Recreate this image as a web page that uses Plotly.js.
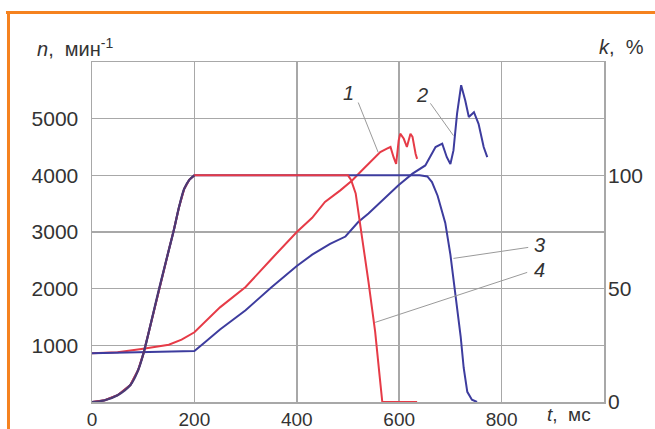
<!DOCTYPE html>
<html>
<head>
<meta charset="utf-8">
<script src="https://cdn.plot.ly/plotly-3.0.1.min.js"></script>
<style>html,body{margin:0;padding:0;background:#fff;}#chart{width:655px;height:429px;}</style>
</head>
<body>
<div id="chart"></div>
<script>
// Curve 1: n (red), rpm
const t1 = [0, 50, 100, 150, 175, 200, 250, 300, 350, 400, 430, 455, 485, 508, 527, 540, 553, 563, 576, 583, 589, 594, 599, 602, 609, 615, 622, 626, 632, 635];
const n1 = [860, 880, 940, 1010, 1100, 1230, 1670, 2030, 2520, 3000, 3250, 3530, 3735, 3910, 4085, 4205, 4320, 4410, 4470, 4500, 4320, 4200, 4615, 4735, 4645, 4500, 4735, 4680, 4380, 4290];
// Curve 2: n (blue), rpm
const t2 = [0, 100, 150, 200, 220, 250, 300, 350, 400, 430, 465, 495, 520, 540, 598, 626, 651, 671, 684, 693, 700, 706, 713, 721, 729, 736, 746, 755, 765, 772];
const n2 = [860, 880, 885, 900, 1050, 1280, 1620, 2020, 2400, 2600, 2790, 2920, 3175, 3325, 3820, 4030, 4175, 4500, 4560, 4320, 4200, 4440, 5090, 5590, 5320, 5030, 5115, 4910, 4500, 4320];
// Curve 3: k (blue), %
const t3 = [0, 25, 50, 75, 90, 100, 110, 120, 130, 140, 150, 160, 170, 180, 190, 200, 640, 655, 664, 675, 684, 690, 700, 710, 720, 726, 733, 742, 752];
const k3 = [0, 0.8, 3, 7.5, 14, 21, 30, 39.5, 49, 58, 67, 76, 86, 94, 98, 100, 100, 99.5, 97, 91, 83, 79, 65, 47, 29, 15, 4.5, 1, 0];
// Curve 4: k (red), %
const t4 = [0, 25, 50, 75, 90, 100, 110, 120, 130, 140, 150, 160, 170, 180, 190, 200, 500, 506, 515, 540, 553, 562, 567, 635];
const k4 = [0, 0.8, 3, 7.5, 14, 21, 30, 39.5, 49, 58, 67, 76, 86, 94, 98, 100, 100, 98, 92, 53, 31, 11, 0, 0];

const xTicks = [0, 200, 400, 600, 800];
const yTicks = [1000, 2000, 3000, 4000, 5000];
const y2Ticks = [0, 50, 100];

const RED = '#e63b47';
const BLUE = '#3d3c9e';
const PURPLE = '#4a3a75';

// overlapping rise segment (both k curves coincide up to 200 ms)
const riseIdx = t3.map((t, i) => i).filter(i => t3[i] <= 200);
const tRise = riseIdx.map(i => t3[i]);
const kRise = riseIdx.map(i => k3[i]);

const traces = [
  {x: t3, y: k3, yaxis: 'y2', mode: 'lines', line: {color: BLUE, width: 2}, name: '3'},
  {x: t4, y: k4, yaxis: 'y2', mode: 'lines', line: {color: RED, width: 2}, name: '4'},
  {x: tRise, y: kRise, yaxis: 'y2', mode: 'lines', line: {color: PURPLE, width: 2.2, shape: 'spline', smoothing: 1}, name: '3/4'},
  {x: t1, y: n1, mode: 'lines', line: {color: RED, width: 2}, name: '1'},
  {x: t2, y: n2, mode: 'lines', line: {color: BLUE, width: 2}, name: '2'}
];

const FONT = 'Liberation Sans, Arial, sans-serif';
const tickFont = {family: FONT, size: 21, color: '#333'};
const xTickFont = {family: FONT, size: 19, color: '#333'};
const GRID = '#a8a8a8';
const LEADER = '#9a9a9a';

// leader lines: [curve point t, curve point n, label end t, label end n]
const leaders = [
  [559, 4404, 520, 5285],
  [706, 4700, 661, 5270],
  [706, 2534, 852, 2728],
  [553, 1405, 850, 2287]
];

const labFont = {family: FONT, size: 20, color: '#333'};
const annotations = [
  {xref: 'paper', yref: 'paper', x: -0.111, y: 1.044, xanchor: 'left', yanchor: 'middle', showarrow: false,
   text: '<i>n</i>,  мин<sup>-1</sup>', font: labFont},
  {xref: 'paper', yref: 'paper', x: 0.986, y: 1.044, xanchor: 'left', yanchor: 'middle', showarrow: false,
   text: '<i>k</i>,  %', font: labFont},
  {xref: 'paper', yref: 'paper', x: 0.885, y: -0.036, xanchor: 'left', yanchor: 'middle', showarrow: false,
   text: '<i>t</i>,  мс', font: {family: FONT, size: 19, color: '#333'}},
  {xref: 'x', yref: 'y', x: 500, y: 5460, showarrow: false, text: '<i>1</i>', font: labFont},
  {xref: 'x', yref: 'y', x: 645, y: 5410, showarrow: false, text: '<i>2</i>', font: labFont},
  {xref: 'x', yref: 'y', x: 874, y: 2763, showarrow: false, text: '<i>3</i>', font: labFont},
  {xref: 'x', yref: 'y', x: 874, y: 2322, showarrow: false, text: '<i>4</i>', font: labFont}
];

const shapes = leaders.map(l => ({type: 'line', xref: 'x', yref: 'y', x0: l[0], y0: l[1], x1: l[2], y1: l[3],
  line: {color: LEADER, width: 1}}));
shapes.push(
  {type: 'line', xref: 'paper', yref: 'paper', x0: -0.168, x1: 1.2, y0: 1.1456, y1: 1.1456, line: {color: '#f5821f', width: 3}},
  {type: 'line', xref: 'paper', yref: 'paper', x0: -0.1631, x1: -0.1631, y0: -0.2, y1: 1.15, line: {color: '#f5821f', width: 3}}
);

const layout = {
  width: 655, height: 429,
  margin: {l: 92, r: 51, t: 62, b: 27, pad: 0},
  paper_bgcolor: '#fff', plot_bgcolor: '#fff',
  showlegend: false,
  font: tickFont,
  xaxis: {range: [0, 1000], tickvals: xTicks, ticktext: xTicks.map(String), showgrid: true, gridcolor: GRID, gridwidth: 1.5,
          zeroline: false, showline: true, linecolor: GRID, linewidth: 1.5, mirror: true, ticks: '', ticklabelstandoff: 0, tickfont: xTickFont},
  yaxis: {range: [0, 6000], tickvals: yTicks, ticktext: yTicks.map(String), showgrid: true, gridcolor: GRID, gridwidth: 1.5,
          zeroline: false, showline: true, linecolor: GRID, linewidth: 1.5, mirror: true, ticks: '', ticklabelstandoff: 8, tickfont: tickFont},
  yaxis2: {range: [0, 150], overlaying: 'y', side: 'right', tickvals: y2Ticks, ticktext: y2Ticks.map(String), showgrid: false,
           zeroline: false, showline: false, ticks: '', ticklabelstandoff: 3, tickfont: tickFont},
  annotations: annotations,
  shapes: shapes
};

Plotly.newPlot('chart', traces, layout, {displayModeBar: false, staticPlot: true});
</script>
</body>
</html>
